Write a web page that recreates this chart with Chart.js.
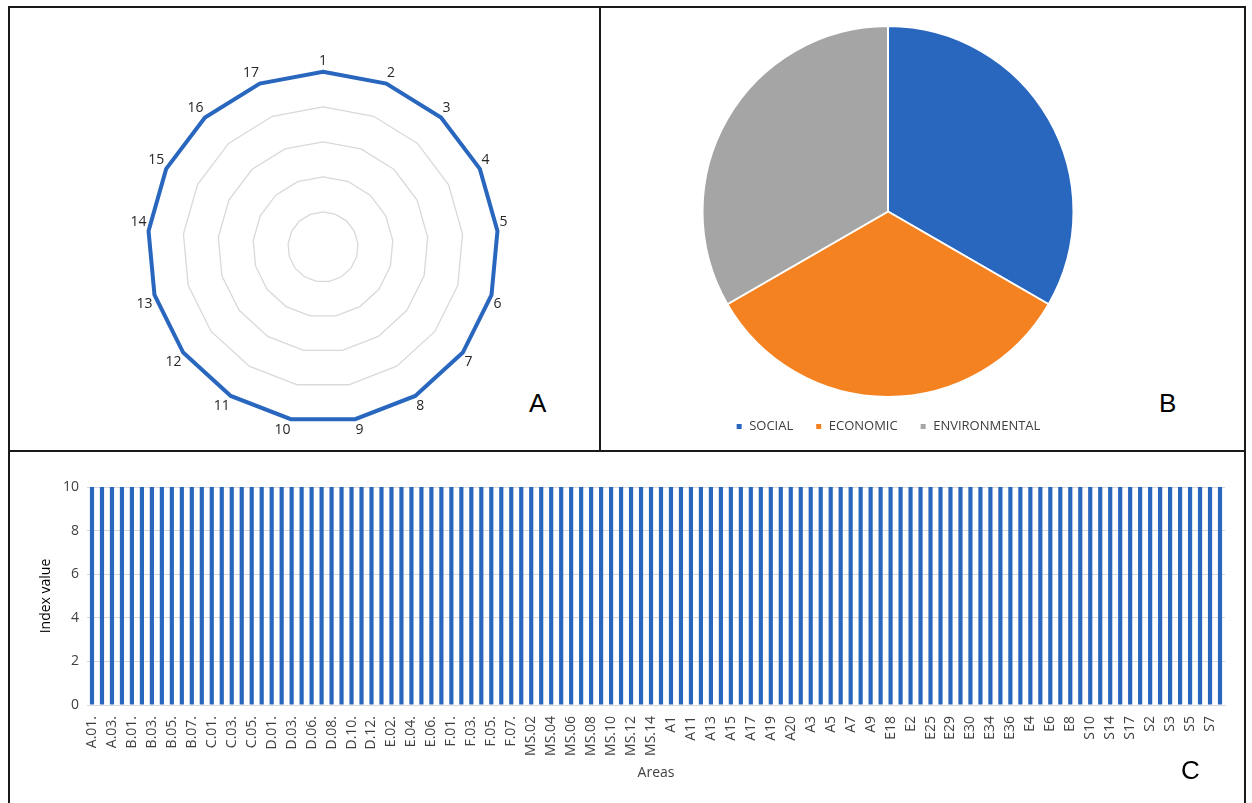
<!DOCTYPE html>
<html>
<head>
<meta charset="utf-8">
<script src="https://cdn.jsdelivr.net/npm/chart.js@4.4.1/dist/chart.umd.min.js"></script>
<style>
  html, body { margin: 0; padding: 0; background: #fff; }
  body { width: 1252px; height: 803px; position: relative; overflow: hidden; font-family: 'Open Sans', sans-serif; }
  .frame { position: absolute; left: 8px; top: 6px; width: 1238px; height: 810px; border: 2px solid #1a1a1a; box-sizing: border-box; }
  .vline { position: absolute; left: 599px; top: 6px; width: 2px; height: 446px; background: #1a1a1a; }
  .hline { position: absolute; left: 8px; top: 450px; width: 1238px; height: 2px; background: #1a1a1a; }
  .box { position: absolute; }
  .letter { position: absolute; font-family: 'Liberation Sans', Arial, sans-serif; font-size: 26px; color: #000; }
</style>
</head>
<body>
<div class="frame"></div>
<div class="vline"></div>
<div class="hline"></div>

<div class="box" style="left:125px; top:52px; width:388px; height:388px;"><canvas id="radar"></canvas></div>
<div class="box" style="left:638px; top:25px; width:500px; height:418px;"><canvas id="pie"></canvas></div>
<div class="box" style="left:10px; top:455px; width:1235px; height:346px;"><canvas id="bars"></canvas></div>

<div class="letter" style="left:529px; top:388px;">A</div>
<div class="letter" style="left:1159px; top:388px;">B</div>
<div class="letter" style="left:1181px; top:755px;">C</div>

<script>
// panel A - radar
const radarLabels = ['1','2','3','4','5','6','7','8','9','10','11','12','13','14','15','16','17'];
const radarValues = [10,10,10,10,10,10,10,10,10,10,10,10,10,10,10,10,10];

// panel B - pie
const pieLabels = ['SOCIAL', 'ECONOMIC', 'ENVIRONMENTAL'];
const pieValues = [33.3, 33.3, 33.3];

// panel C - bars
const areaLabels = [
  'A.01.','A.02.','A.03.','A.04.','B.01.','B.02.','B.03.','B.04.','B.05.','B.06.','B.07.','B.08.',
  'C.01.','C.02.','C.03.','C.04.','C.05.','C.06.','D.01.','D.02.','D.03.','D.04.','D.06.','D.07.',
  'D.08.','D.09.','D.10.','D.11.','D.12.','E.01.','E.02.','E.03.','E.04.','E.05.','E.06.','E.07.',
  'F.01.','F.02.','F.03.','F.04.','F.05.','F.06.','F.07.','MS.01','MS.02','MS.03','MS.04','MS.05',
  'MS.06','MS.07','MS.08','MS.09','MS.10','MS.11','MS.12','MS.13','MS.14','MS.15','A1','A10',
  'A11','A12','A13','A14','A15','A16','A17','A18','A19','A2','A20','A21','A3','A4','A5','A6',
  'A7','A8','A9','E17','E18','E19','E2','E23','E25','E27','E29','E3','E30','E32','E34','E35',
  'E36','E38','E4','E5','E6','E7','E8','E9','S10','S12','S14','S16','S17','S18','S2','S21',
  'S3','S4','S5','S6','S7','S8'
];
const indexValues = areaLabels.map(() => 10);
const yTicks = [0, 2, 4, 6, 8, 10];

const blue = '#2967bf';
const orange = '#f58220';
const grey = '#a5a5a5';
const gridGrey = '#d9d9d9';
const textGrey = '#404040';
const font = { family: "'Open Sans', sans-serif", size: 14 };

new Chart(document.getElementById('radar'), {
    type: 'radar',
    data: {
        labels: radarLabels,
        datasets: [{
            data: radarValues,
            borderColor: blue,
            borderWidth: 4,
            fill: false,
            pointRadius: 0
        }]
    },
    options: {
        responsive: true,
        maintainAspectRatio: false,
        animation: false,
        plugins: { legend: { display: false }, tooltip: { enabled: false } },
        scales: {
            r: {
                min: 0,
                max: 10,
                ticks: { display: false, stepSize: 2 },
                grid: { color: gridGrey, lineWidth: 1.3 },
                angleLines: { display: false },
                pointLabels: { font: font, color: '#262626', padding: 2 }
            }
        }
    }
});

new Chart(document.getElementById('pie'), {
    type: 'pie',
    data: {
        labels: pieLabels,
        datasets: [{
            data: pieValues,
            backgroundColor: [blue, orange, grey],
            borderColor: '#ffffff',
            borderWidth: 2
        }]
    },
    options: {
        responsive: true,
        maintainAspectRatio: false,
        animation: false,
        plugins: {
            tooltip: { enabled: false },
            legend: {
                position: 'bottom',
                labels: { boxWidth: 7, boxHeight: 7, font: { family: font.family, size: 13 }, color: textGrey, padding: 22 }
            }
        }
    }
});

new Chart(document.getElementById('bars'), {
    type: 'bar',
    data: {
        labels: areaLabels,
        datasets: [{
            data: indexValues,
            backgroundColor: blue,
            barPercentage: 0.42,
            categoryPercentage: 1
        }]
    },
    options: {
        responsive: true,
        maintainAspectRatio: false,
        animation: false,
        layout: { padding: { top: 32, right: 20, bottom: 16, left: 24 } },
        plugins: { legend: { display: false }, tooltip: { enabled: false } },
        scales: {
            x: {
                grid: { display: false },
                border: { color: gridGrey },
                ticks: {
                    autoSkip: false,
                    minRotation: 90,
                    maxRotation: 90,
                    font: font,
                    color: textGrey,
                    callback: function(value, index) {
                        return index % 2 === 0 ? areaLabels[index] : '';
                    }
                },
                title: { display: true, text: 'Areas', font: font, color: textGrey, padding: { top: 4 } },
                afterFit: function(axis) { axis.height = 80; }
            },
            y: {
                min: 0,
                max: 10,
                afterBuildTicks: function(axis) { axis.ticks = yTicks.map(v => ({ value: v })); },
                grid: { color: gridGrey, drawTicks: false },
                border: { display: false },
                ticks: { font: font, color: textGrey, padding: 8 },
                title: { display: true, text: 'Index value', font: font, color: '#000' },
                afterFit: function(axis) { axis.width = 53; }
            }
        }
    }
});
</script>
</body>
</html>
